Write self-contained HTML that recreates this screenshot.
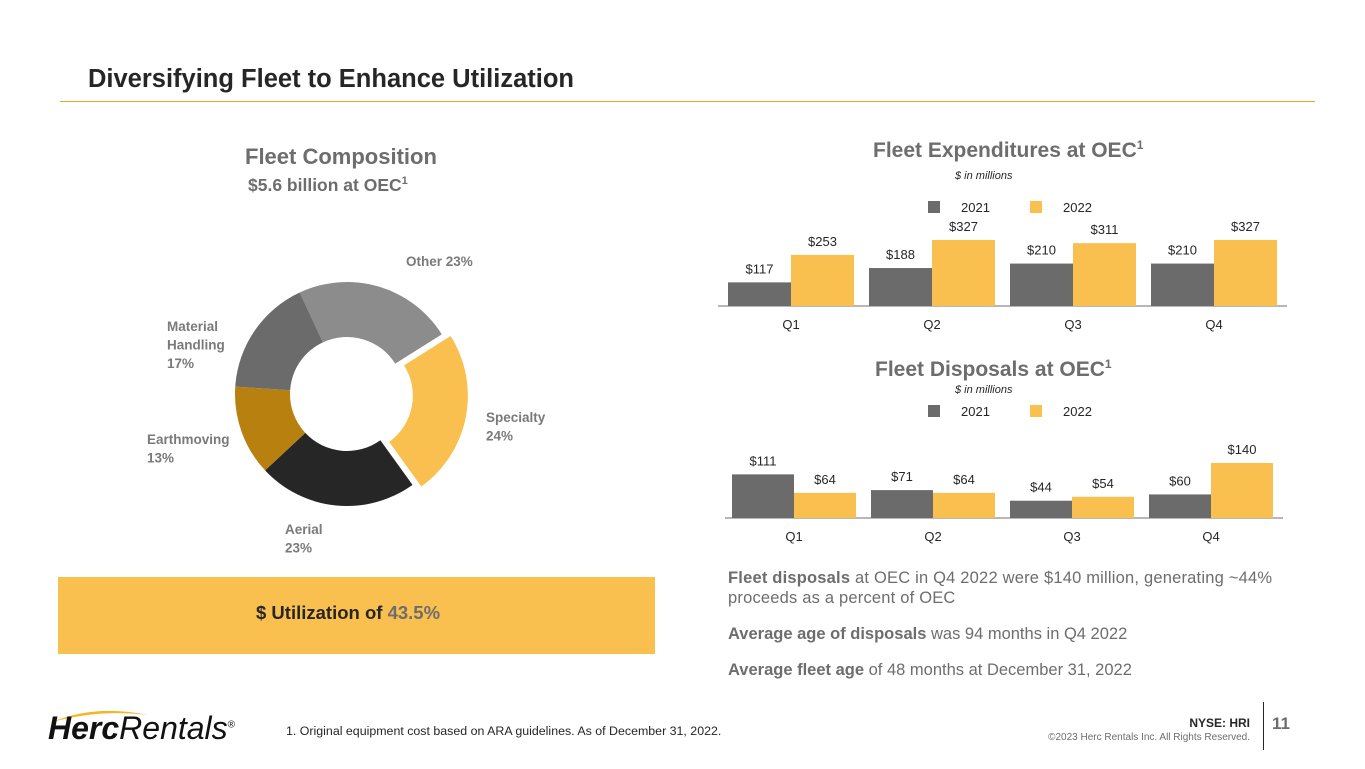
<!DOCTYPE html>
<html><head><meta charset="utf-8">
<style>
body{margin:0;width:1365px;height:769px;background:#fff;font-family:"Liberation Sans",sans-serif;position:relative;overflow:hidden}
.a{position:absolute;white-space:nowrap}
</style></head><body>
<div class="a" style="left:88px;top:65px;font-size:25.5px;font-weight:bold;color:#262626">Diversifying Fleet to Enhance Utilization</div>
<div class="a" style="left:60px;top:101px;width:1255px;height:1px;background:#E0A92A"></div>

<div class="a" style="left:245px;top:144px;font-size:22px;font-weight:bold;color:#6d6d6d">Fleet Composition</div>
<div class="a" style="left:248px;top:175px;font-size:17.5px;font-weight:bold;color:#6d6d6d">$5.6 billion at OEC<sup style="font-size:11px">1</sup></div>

<svg class="a" style="left:0;top:0" width="700" height="580" id="donut"></svg>

<div class="a" style="left:58px;top:577px;width:597px;height:77px;background:#F9BF4F"></div>
<div class="a" style="left:256px;top:602px;font-size:18.5px;font-weight:bold;color:#262626">$ Utilization of <span style="color:#6d6d6d">43.5%</span></div>

<div class="a" style="left:873px;top:138px;font-size:21px;font-weight:bold;color:#6d6d6d">Fleet Expenditures at OEC<sup style="font-size:12px">1</sup></div>
<div class="a" style="left:955px;top:170px;font-size:11px;font-style:italic;color:#262626">$ in millions</div>
<div class="a" style="left:875px;top:357px;font-size:21px;font-weight:bold;color:#6d6d6d">Fleet Disposals at OEC<sup style="font-size:12px">1</sup></div>
<div class="a" style="left:955px;top:384px;font-size:11px;font-style:italic;color:#262626">$ in millions</div>

<svg class="a" style="left:0;top:0" width="1365" height="560" id="bars"></svg>

<div class="a" style="left:728px;top:568px;font-size:16.5px;color:#6d6d6d;line-height:20px;white-space:normal;width:600px;letter-spacing:0.2px"><b>Fleet disposals</b> at OEC in Q4 2022 were $140 million, generating ~44% proceeds as a percent of OEC</div>
<div class="a" style="left:728px;top:625px;font-size:16.5px;color:#6d6d6d"><b>Average age of disposals</b> was 94 months in Q4 2022</div>
<div class="a" style="left:728px;top:661px;font-size:16.5px;color:#6d6d6d"><b>Average fleet age</b> of 48 months at December 31, 2022</div>

<svg class="a" style="left:50px;top:706px" width="100" height="18"><path d="M2 16 Q45 -2 98 9 Q50 3 2 16Z" fill="#F5B625"/></svg>
<div class="a" style="left:48px;top:710px;font-size:32px;color:#111"><b><i>Herc</i></b><i>Rentals</i><sup style="font-size:10px">®</sup></div>
<div class="a" style="left:286px;top:724px;font-size:12.4px;color:#262626">1. Original equipment cost based on ARA guidelines. As of December 31, 2022.</div>
<div class="a" style="right:115px;top:716px;font-size:12px;font-weight:bold;color:#262626">NYSE: HRI</div>
<div class="a" style="right:115px;top:732px;font-size:10px;color:#6d6d6d">©2023 Herc Rentals Inc.  All Rights Reserved.</div>
<div class="a" style="left:1263px;top:702px;width:1px;height:48px;background:#262626"></div>
<div class="a" style="left:1272px;top:714px;font-size:17px;font-weight:bold;color:#6d6d6d">11</div>

<script>
const sliceLabels=["Other","Specialty","Aerial","Earthmoving","Material Handling"];
const sliceValues=[23,24,23,13,17];
const sliceColors=["#8c8c8c","#F9BF4F","#262626","#B8810F","#6b6b6b"];
const quarters=["Q1","Q2","Q3","Q4"];
const exp2021=[117,188,210,210];
const exp2022=[253,327,311,327];
const disp2021=[111,71,44,60];
const disp2022=[64,64,54,140];
const NS="http://www.w3.org/2000/svg";
function mk(p,t,a){const e=document.createElementNS(NS,t);for(const k in a)e.setAttribute(k,a[k]);p.appendChild(e);return e;}
const d=document.getElementById('donut');
const cx=347,cy=394,R=112,r=57;let ang=-25;
const tot=sliceValues.reduce((a,b)=>a+b,0);
sliceValues.forEach((v,i)=>{
  const sw=v/tot*360,a0=ang,a1=ang+sw,mid=(a0+a1)/2*Math.PI/180;
  const off=i===1?9:0,ox=cx+off*Math.sin(mid),oy=cy-off*Math.cos(mid);
  const P=(rad,a)=>[ox+rad*Math.sin(a*Math.PI/180),oy-rad*Math.cos(a*Math.PI/180)];
  const [x0,y0]=P(R,a0),[x1,y1]=P(R,a1),[x2,y2]=P(r,a1),[x3,y3]=P(r,a0);const lg=sw>180?1:0;
  const p=mk(d,'path',{d:`M${x0} ${y0}A${R} ${R} 0 ${lg} 1 ${x1} ${y1}L${x2} ${y2}A${r} ${r} 0 ${lg} 0 ${x3} ${y3}Z`,fill:sliceColors[i]});
  
  
  ang=a1;
});
const lbl=[[406,266,["Other "+sliceValues[0]+"%"]],[486,422,["Specialty",sliceValues[1]+"%"]],[285,534,["Aerial",sliceValues[2]+"%"]],[147,444,["Earthmoving",sliceValues[3]+"%"]],[167,331,["Material","Handling",sliceValues[4]+"%"]]];
lbl.forEach((l,i)=>{l[2].forEach((s,j)=>{const t=mk(d,'text',{x:l[0],y:l[1]+j*18.5,'font-size':13.5,'font-weight':'bold',fill:'#7a7a7a','font-family':'Liberation Sans'});t.textContent=s;

});});
const b=document.getElementById('bars');
function chart(v1,v2,base,scale,x0,step,bw,axL,axR,legY,name){
  const ax=mk(b,'line',{x1:axL,x2:axR,y1:base,y2:base,stroke:'#8c8c8c','stroke-width':1.3});
  
  
  [[v1,'#6b6b6b'],[v2,'#F9BF4F']].forEach((s,si)=>{s[0].forEach((v,i)=>{
    const x=x0+i*step+si*bw,h=v*scale;
    const rc=mk(b,'rect',{x:x,y:base-h,width:bw,height:h,fill:s[1]});
    
    
    const t=mk(b,'text',{x:x+bw/2,y:base-h-9,'text-anchor':'middle','font-size':13,fill:'#262626','font-family':'Liberation Sans'});t.textContent='$'+v;
    
    
  });});
  quarters.forEach((q,i)=>{const t=mk(b,'text',{x:x0+i*step+bw,y:base+23,'text-anchor':'middle','font-size':13,fill:'#262626','font-family':'Liberation Sans'});t.textContent=q;
    
    });
  [['2021','#6b6b6b',928],['2022','#F9BF4F',1030]].forEach(l=>{
    const r=mk(b,'rect',{x:l[2],y:legY-6,width:12,height:12,fill:l[1]});
    
    
    const t=mk(b,'text',{x:l[2]+33,y:legY+5,'font-size':13,fill:'#262626','font-family':'Liberation Sans'});t.textContent=l[0];
    
    
  });
}
chart(exp2021,exp2022,306,0.202,728,141,63,718,1287,207,'expenditures');
chart(disp2021,disp2022,518,0.393,732,139,62,725,1283,411,'disposals');
</script>
</body></html>
